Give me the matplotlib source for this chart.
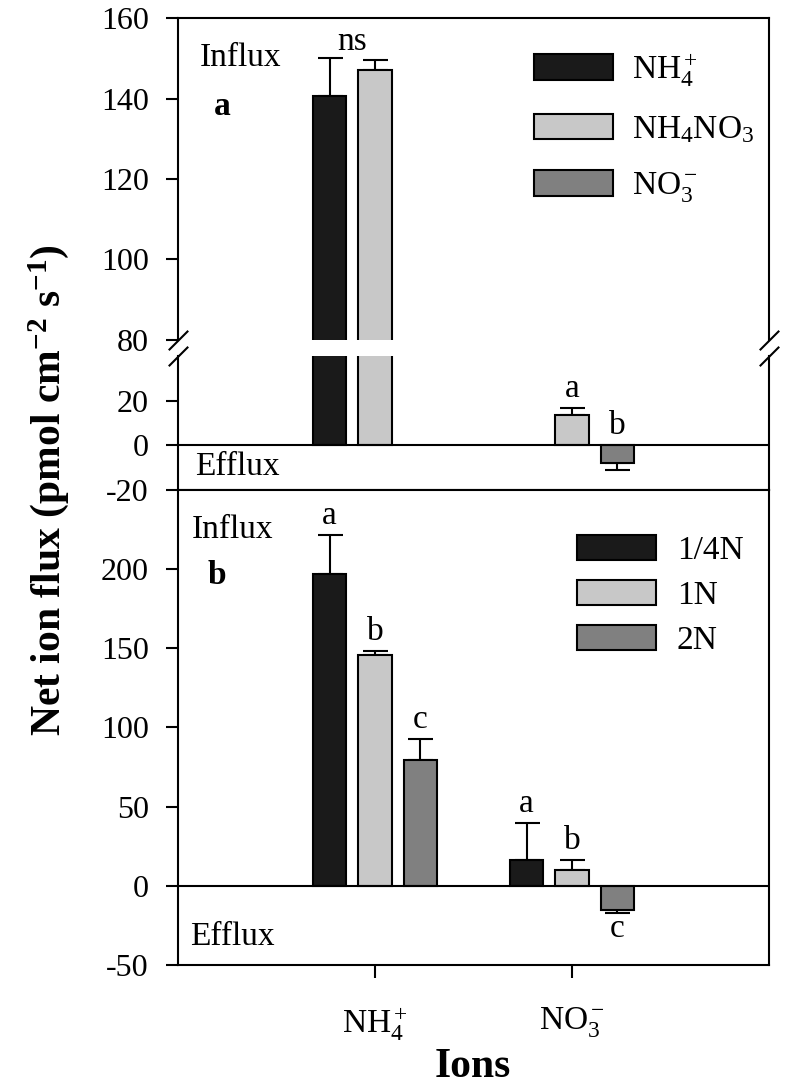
import numpy as np
import matplotlib
matplotlib.use('Agg')
import matplotlib.pyplot as plt
from matplotlib.patches import Patch

# Fonts (Times-like)
plt.rcParams['font.family'] = ['Liberation Serif', 'DejaVu Serif']
plt.rcParams['mathtext.fontset'] = 'custom'
plt.rcParams['mathtext.rm'] = 'Liberation Serif'
plt.rcParams['mathtext.it'] = 'Liberation Serif:italic'
plt.rcParams['mathtext.bf'] = 'Liberation Serif:bold'
plt.rcParams['axes.unicode_minus'] = False

# Data
ions = ['NH$_4^+$', 'NO$_3^-$']

# panel a: nitrogen form
a_series = ['NH$_4^+$', 'NH$_4$NO$_3$', 'NO$_3^-$']
a_mean = [[140.5, np.nan], [147.0, 13.7], [np.nan, -8.0]]
a_err = [[9.5, np.nan], [2.5, 3.0], [np.nan, 3.2]]
a_letters = [['', ''], ['', 'a'], ['', 'b']]
a_group_note = 'ns'   # over NH4+ group

# panel b: nitrogen level
b_series = ['1/4N', '1N', '2N']
b_mean = [[196.7, 16.5], [145.7, 10.0], [79.5, -15.0]]
b_err = [[24.6, 23.2], [2.6, 6.3], [13.2, 1.9]]
b_letters = [['a', 'a'], ['b', 'b'], ['c', 'c']]

colors = ['#1a1a1a', '#c8c8c8', '#808080']
x = np.arange(1, len(ions) + 1)
offs = [-0.23, 0.0, 0.23]
w = 0.17
fs = 24      # annotation / legend text
fs_tick = 23

W, H = 786, 1087
fig = plt.figure(figsize=(W / 100, H / 100), dpi=100)


def box(top, bottom, left=178, right=769):
    return [left / W, 1 - bottom / H, (right - left) / W, (bottom - top) / H]


ax_up = fig.add_axes(box(18, 340))
ax_lo = fig.add_axes(box(356, 490))
ax_b = fig.add_axes(box(490, 965))


def draw_bars(ax, means, errs):
    for i in range(3):
        m = np.array(means[i], dtype=float)
        e = np.array(errs[i], dtype=float)
        xs = x + offs[i]
        ax.bar(xs, m, width=w, color=colors[i], edgecolor='black', linewidth=1.5, zorder=3)
        lower = np.where(m < 0, e, 0)
        upper = np.where(m > 0, e, 0)
        ok = ~np.isnan(m)
        ax.errorbar(xs[ok], m[ok], yerr=[lower[ok], upper[ok]], fmt='none',
                    ecolor='black', elinewidth=1.5, capsize=9, capthick=1.5, zorder=2)


for ax in (ax_up, ax_lo, ax_b):
    for s in ax.spines.values():
        s.set_linewidth(1.5)
    ax.set_xlim(0, 3)
    ax.tick_params(axis='y', direction='out', length=9, width=1.5, labelsize=fs_tick, pad=12)
    ax.axhline(0, color='black', lw=1.5, zorder=4)

draw_bars(ax_up, a_mean, a_err)
draw_bars(ax_lo, a_mean, a_err)
draw_bars(ax_b, b_mean, b_err)

ax_up.set_ylim(80, 160)
ax_up.set_yticks(np.arange(80, 161, 20))
ax_lo.set_ylim(-20, 40)
ax_lo.set_yticks([-20, 0, 20])
ax_b.set_ylim(-50, 250)
ax_b.set_yticks(np.arange(-50, 201, 50))

ax_up.spines['bottom'].set_visible(False)
ax_lo.spines['top'].set_visible(False)
for ax in (ax_up, ax_lo):
    ax.tick_params(axis='x', bottom=False, labelbottom=False)

ax_b.set_xticks(x)
ax_b.set_xticklabels(ions)
ax_b.tick_params(axis='x', direction='out', length=9, width=1.5, labelsize=fs, pad=20)

# break marks
kw = dict(marker=[(-1, -1), (1, 1)], markersize=14, linestyle='none',
          color='black', mec='black', mew=1.5, clip_on=False)
ax_up.plot([0, 1], [0, 0], transform=ax_up.transAxes, **kw)
ax_lo.plot([0, 1], [1, 1], transform=ax_lo.transAxes, **kw)

# significance letters
for i in range(3):
    for j in range(len(ions)):
        lab = a_letters[i][j]
        if not lab:
            continue
        m, e = a_mean[i][j], a_err[i][j]
        yy = m + e if m > 0 else 0
        tgt = ax_up if yy >= 80 else ax_lo
        tgt.annotate(lab, (x[j] + offs[i], yy), xytext=(0, 3), textcoords='offset points',
                     ha='center', va='bottom', fontsize=fs)
ns_top = max(a_mean[0][0] + a_err[0][0], a_mean[1][0] + a_err[1][0])
ax_up.annotate(a_group_note, (x[0] + (offs[0] + offs[1]) / 2, ns_top), xytext=(0, 1),
               textcoords='offset points', ha='center', va='bottom', fontsize=fs)

for i in range(3):
    for j in range(len(ions)):
        m, e = b_mean[i][j], b_err[i][j]
        if m > 0:
            ax_b.annotate(b_letters[i][j], (x[j] + offs[i], m + e), xytext=(0, 3),
                          textcoords='offset points', ha='center', va='bottom', fontsize=fs)
        else:
            ax_b.annotate(b_letters[i][j], (x[j] + offs[i], m - e), xytext=(0, -1),
                          textcoords='offset points', ha='center', va='top', fontsize=fs)

# panel texts
ax_up.text(0.037, 0.876, 'Influx', transform=ax_up.transAxes, fontsize=fs, va='center')
ax_up.text(0.0745, 0.724, 'a', transform=ax_up.transAxes, fontsize=fs, va='center',
           ha='center', fontweight='bold')
ax_lo.text(0.029, 0.172, 'Efflux', transform=ax_lo.transAxes, fontsize=fs, va='center')
ax_b.text(0.024, 0.916, 'Influx', transform=ax_b.transAxes, fontsize=fs, va='center')
ax_b.text(0.066, 0.819, 'b', transform=ax_b.transAxes, fontsize=fs, va='center',
          ha='center', fontweight='bold')
ax_b.text(0.020, 0.059, 'Efflux', transform=ax_b.transAxes, fontsize=fs, va='center')

# legends
h_a = [Patch(facecolor=c, edgecolor='black', linewidth=1.5) for c in colors]
ax_up.legend(h_a, a_series, loc='upper left', bbox_to_anchor=(0.602, 0.897), frameon=False,
             fontsize=fs, handlelength=2.37, handleheight=0.8, handletextpad=0.57,
             labelspacing=0.75, borderpad=0, borderaxespad=0)
ax_b.legend(h_a, b_series, loc='upper left', bbox_to_anchor=(0.675, 0.906), frameon=False,
            fontsize=fs, handlelength=2.37, handleheight=0.78, handletextpad=0.63,
            labelspacing=0.42, borderpad=0, borderaxespad=0)

# axis labels
fig.text(0.062, 0.549, r'Net ion flux (pmol cm$^{\mathbf{-2}}$ s$^{\mathbf{-1}}$)',
         rotation=90, ha='center', va='center', fontsize=30, fontweight='bold')
fig.text(473 / W, 1 - 1067 / H, 'Ions', ha='center', va='center', fontsize=30,
         fontweight='bold')

fig.savefig('out.png', dpi=100)
